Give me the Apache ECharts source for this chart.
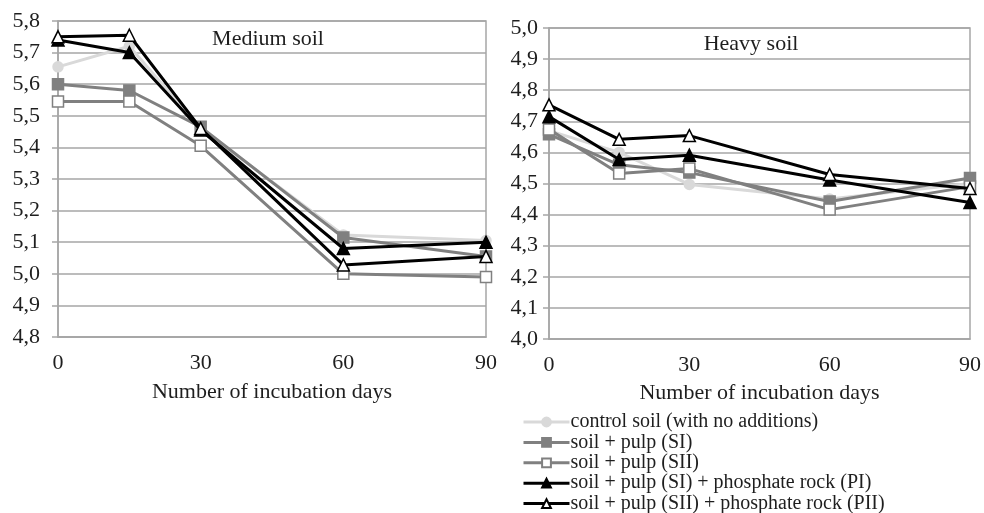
<!DOCTYPE html>
<html><head><meta charset="utf-8">
<script src="https://cdn.jsdelivr.net/npm/echarts@6/dist/echarts.min.js"></script>
<style>html,body{margin:0;padding:0;background:#fff}#c{width:984px;height:513px}</style>
</head><body><div id="c"></div>
<script>
var days = [0, 15, 30, 60, 90];
var seriesNames = ['control soil (with no additions)', 'soil + pulp (SI)', 'soil + pulp (SII)', 'soil + pulp (SI) + phosphate rock (PI)', 'soil + pulp (SII) + phosphate rock (PII)'];
var mediumControl = [5.655, 5.72, 5.46, 5.123, 5.105];
var mediumSI = [5.60, 5.58, 5.465, 5.115, 5.055];
var mediumSII = [5.545, 5.545, 5.405, 5.0, 4.99];
var mediumPI = [5.74, 5.70, 5.455, 5.08, 5.10];
var mediumPII = [5.75, 5.755, 5.46, 5.028, 5.055];
var heavyControl = [4.67, 4.60, 4.497, 4.45, 4.50];
var heavySI = [4.658, 4.56, 4.535, 4.442, 4.518];
var heavySII = [4.674, 4.532, 4.548, 4.416, 4.49];
var heavyPI = [4.715, 4.577, 4.591, 4.511, 4.439];
var heavyPII = [4.753, 4.642, 4.654, 4.529, 4.484];
var xTicks = [0, 30, 60, 90];

var FONT = 'Liberation Serif';
var TXT = '#1e1e1e';
var styles = [
  {symbol:'circle', color:'#d9d9d9', fill:'#d9d9d9', size:10},
  {symbol:'rect', color:'#808080', fill:'#808080', size:11},
  {symbol:'rect', color:'#808080', fill:'#ffffff', size:11},
  {symbol:'triangle', color:'#000000', fill:'#000000', size:12},
  {symbol:'triangle', color:'#000000', fill:'#ffffff', size:12}
];
var mediumSets = [mediumControl, mediumSI, mediumSII, mediumPI, mediumPII];
var heavySets = [heavyControl, heavySI, heavySII, heavyPI, heavyPII];

function pairs(vals){ return days.map(function(d,i){ return [d, vals[i]]; }); }
function mk(idx, vals, gi){
  var s = styles[idx];
  return {
    type:'line', name: seriesNames[idx], xAxisIndex: gi, yAxisIndex: gi,
    data: pairs(vals), symbol: s.symbol, symbolSize: s.size,
    lineStyle:{color:s.color, width:3},
    itemStyle:{color:s.fill, borderColor:s.color, borderWidth:1.5},
    z: 2 + idx, animation:false
  };
}
var series = [];
mediumSets.forEach(function(v,i){ series.push(mk(i, v, 0)); });
heavySets.forEach(function(v,i){ series.push(mk(i, v, 1)); });

function yAxis(gi, mn, mx){
  return {
    type:'value', gridIndex: gi, min: mn, max: mx, interval: 0.1,
    axisLine:{show:true, lineStyle:{color:'#a6a6a6', width:1.5}},
    axisTick:{show:true, length:6, lineStyle:{color:'#a6a6a6', width:1.5}},
    splitLine:{show:true, lineStyle:{color:'#a6a6a6', width:1.5}},
    axisLabel:{fontFamily:FONT, fontSize:22, color:TXT, margin: gi===0 ? 18 : 11,
      formatter:function(v){ return v.toFixed(1).replace('.', ','); }}
  };
}
function xAxis(gi){
  return {
    type:'value', gridIndex: gi, min: xTicks[0], max: xTicks[xTicks.length-1], interval: 30,
    name:'Number of incubation days', nameLocation:'middle', nameGap: gi===0 ? 44 : 43,
    nameTextStyle:{fontFamily:FONT, fontSize:22, color:TXT},
    axisLine:{show:true, lineStyle:{color:'#a6a6a6', width:1.5}},
    axisTick:{show:false}, splitLine:{show:false},
    axisLabel:{fontFamily:FONT, fontSize:22, color:TXT, margin: 15}
  };
}

var chart = echarts.init(document.getElementById('c'), null, {renderer:'canvas'});
chart.setOption({
  backgroundColor:'#ffffff',
  animation:false,
  title:[
    {text:'Medium soil', left:268, top:28, padding:0, textAlign:'center', textStyle:{fontFamily:FONT, fontSize:22, fontWeight:'normal', color:TXT}},
    {text:'Heavy soil', left:751, top:33, padding:0, textAlign:'center', textStyle:{fontFamily:FONT, fontSize:22, fontWeight:'normal', color:TXT}}
  ],
  grid:[
    {left:58, right:498, top:21, bottom:176, show:true, borderColor:'#a6a6a6', borderWidth:1.5},
    {left:549, right:9, top:28, bottom:174, show:true, borderColor:'#a6a6a6', borderWidth:1.5}
  ],
  xAxis:[xAxis(0), xAxis(1)],
  yAxis:[yAxis(0, 4.8, 5.8), yAxis(1, 4.0, 5.0)],
  legend:{
    orient:'vertical', left:522, top:412, height:104, padding:0, itemGap:0.4, itemWidth:46, itemHeight:11,
    data: seriesNames,
    lineStyle:{width:3},
    textStyle:{fontFamily:FONT, fontSize:20, color:TXT, padding:[0,0,0,-4]}
  },
  series: series
});
</script>
</body></html>
